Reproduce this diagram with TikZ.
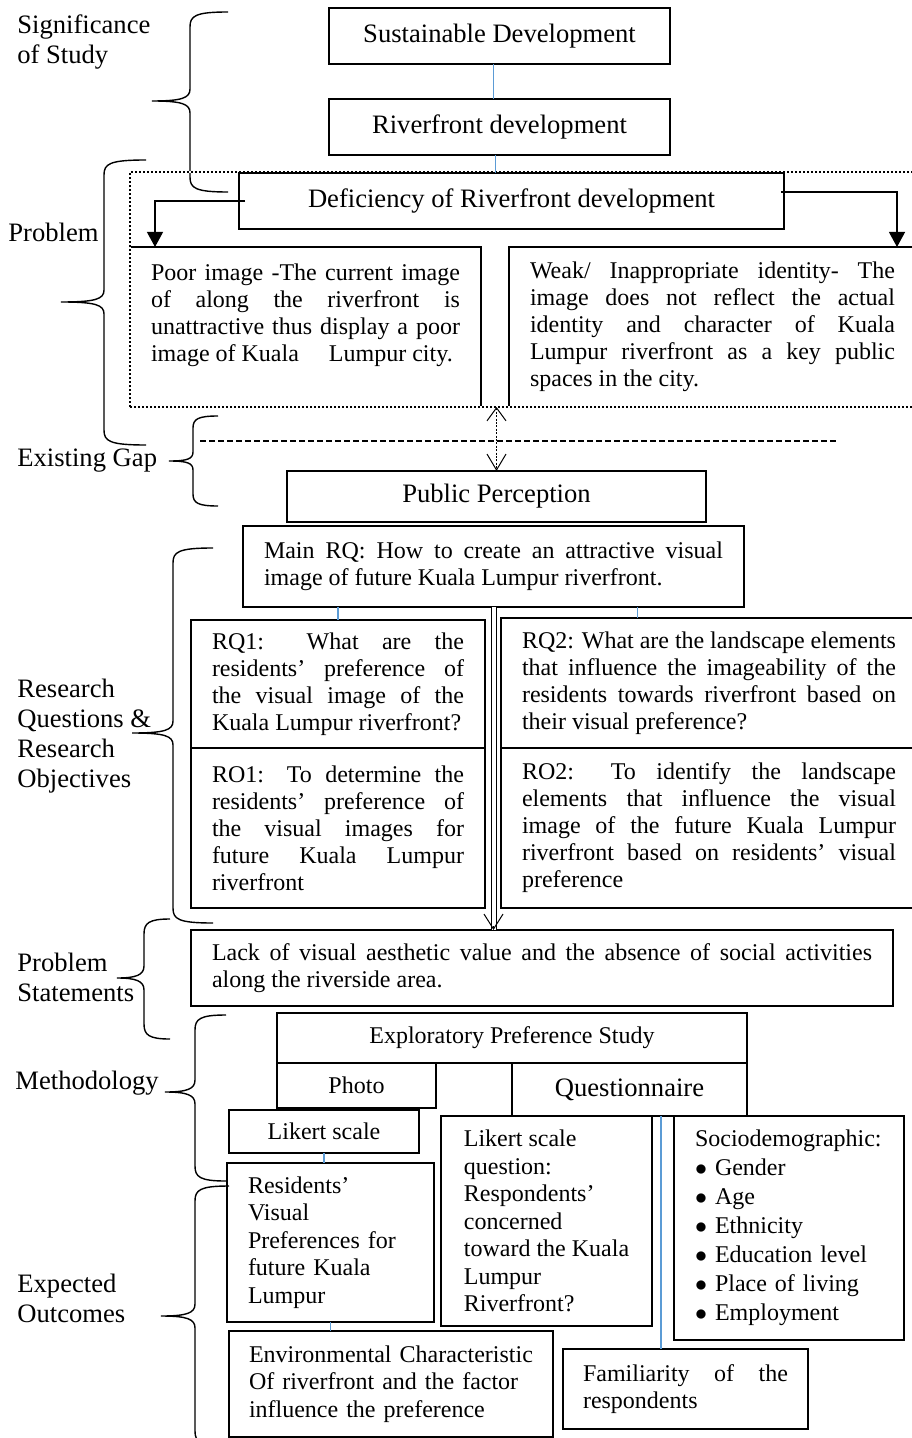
\documentclass[tikz,border=0pt]{standalone}
\usepackage{fontspec}
\setmainfont{Liberation Serif}
\usepackage{tikz}
\usetikzlibrary{positioning,arrows.meta,fit}
\definecolor{linkblue}{RGB}{91,155,213}

\begin{document}
\begin{tikzpicture}[x=0.5pt,y=-0.5pt,
        box/.style={draw, line width=0.9pt, inner sep=0pt, outer sep=0pt},
        head box/.style={box, align=center, font=\fontsize{13.3}{15}\selectfont},
        small box/.style={box, align=center, font=\fontsize{12}{13.5}\selectfont},
        text box/.style={box, anchor=north west, align=justify, inner xsep=10.5pt,
        font=\fontsize{12}{13.5}\selectfont},
        list box/.style={box, anchor=north west, align=left, inner xsep=10.5pt,
        font=\fontsize{12}{13.75}\selectfont},
        side label/.style={anchor=west, inner sep=0pt, align=left,
        font=\fontsize{13.3}{15}\selectfont},
        frame/.style={draw, line width=1pt, dash pattern=on 1pt off 1pt, inner sep=0pt,
        preaction={draw=white, solid, line width=1.4pt}},
        brace line/.style={line width=0.7pt},
        link/.style={linkblue, line width=0.8pt},
        down arrow/.style={line width=0.6pt, -{Triangle[length=7.5pt,width=8pt]}},
        gap line/.style={line width=0.6pt, dash pattern=on 3pt off 1.5pt},
        dotted arrow/.style={line width=0.5pt, dash pattern=on 1pt off 0.7pt,
        {Straight Barb[length=6.5pt,width=9.5pt]}-{Straight Barb[length=8pt,width=9.5pt]}},
        double line/.style={line width=0.5pt, double, double distance=2pt},
        open tip/.style={line width=0.5pt, -{Straight Barb[length=7.5pt,width=9.5pt]}}
        ]
        \useasboundingbox (0,0) rectangle (911,1438);

        % side labels
        \node [side label] (lsig) at (17,42) {Significance\\of Study};
        \node [side label] (lprob) at (8,232) {Problem};
        \node [side label] (lgap) at (17,461) {Existing Gap};
        \node [side label] (lrq) at (17,736) {Research\\Questions \&\\Research\\Objectives};
        \node [side label] (lps) at (17,977) {Problem\\Statements};
        \node [side label] (lmeth) at (15,1083) {Methodology};
        \node [side label] (leo) at (17,1298) {Expected\\Outcomes};

        % braces
        \draw [brace line] (228,12) .. controls (195,12) and (190,16) .. (190,27) -- (190,89)
        .. controls (190,98) and (182,101) .. (152,101) .. controls (182,101) and (190,104) .. (190,113)
        -- (190,177) .. controls (190,188) and (195,192) .. (228,192);
        \draw [brace line] (146,160) .. controls (109,160) and (104,164) .. (104,175) -- (104,290)
        .. controls (104,299) and (96,302) .. (61,302) .. controls (96,302) and (104,305) .. (104,314)
        -- (104,430) .. controls (104,441) and (109,445) .. (146,445);
        \draw [brace line] (218,416) .. controls (198,416) and (193,419) .. (193,428) -- (193,452)
        .. controls (193,459) and (187,461) .. (169,461) .. controls (187,461) and (193,463) .. (193,470)
        -- (193,494) .. controls (193,503) and (198,506) .. (218,506);
        \draw [brace line] (213,548) .. controls (178,548) and (173,552) .. (173,563) -- (173,721)
        .. controls (173,730) and (165,733) .. (132,733) .. controls (165,733) and (173,736) .. (173,745)
        -- (173,908) .. controls (173,919) and (178,923) .. (213,923);
        \draw [brace line] (170,919) .. controls (149,919) and (144,923) .. (144,934) -- (144,966)
        .. controls (144,975) and (136,978) .. (117,978) .. controls (136,978) and (144,981) .. (144,990)
        -- (144,1024) .. controls (144,1035) and (149,1039) .. (170,1039);
        \draw [brace line] (226,1015) .. controls (200,1015) and (195,1019) .. (195,1030) -- (195,1080)
        .. controls (195,1089) and (187,1092) .. (165,1092) .. controls (187,1092) and (195,1095) .. (195,1104)
        -- (195,1166) .. controls (195,1177) and (200,1181) .. (226,1181);
        \draw [brace line] (229,1186) .. controls (200,1186) and (195,1190) .. (195,1201) -- (195,1304)
        .. controls (195,1313) and (187,1316) .. (161,1316) .. controls (187,1316) and (195,1319) .. (195,1328)
        -- (195,1431) .. controls (195,1442) and (200,1446) .. (229,1446);

        % top of the study
        \node [head box, minimum width=170.5pt, minimum height=28pt, anchor=north west] (sd) at (329,8) {Sustainable Development};
        \node [head box, minimum width=170.5pt, minimum height=28pt] (rd) [below=17.5pt of sd] {Riverfront development};

        % problem
        \node [text box, text width=154.5pt, minimum height=80pt] (poor) at (130,247) {Poor image -The current image\linebreak of along the riverfront is\linebreak unattractive thus display a poor\linebreak image of Kuala\hspace{12pt} Lumpur city.\\[1pt]\mbox{}};
        \node [text box, text width=182.5pt, minimum height=80pt] (weak) at (509,247) {Weak/ Inappropriate identity- The\linebreak image does not reflect the actual\linebreak identity and character of Kuala\linebreak Lumpur riverfront as a key public\linebreak spaces in the city.};
        \coordinate (frtop) at (130,172);
        \node [frame, fit=(frtop)(poor)(weak)] (frm) {};
        \node [head box, minimum width=272.5pt, minimum height=28pt, anchor=north west] (def) at (239,173) {Deficiency of Riverfront development};

        % gap
        \coordinate (gapl) at (200,441);
        \coordinate (gapr) at (837,441);
        \node [head box, minimum width=209.5pt, minimum height=25.5pt, anchor=north west] (pp) at (287,471) {Public Perception};

        % research questions and objectives
        \node [text box, text width=229.5pt, minimum height=40.5pt] (mainrq) at (243,526) {Main RQ: How to create an attractive visual\linebreak image of future Kuala Lumpur riverfront.};
        \node [text box, text width=126pt, minimum height=64pt] (rq1) at (191,620) {RQ1: What are the\linebreak residents' preference of\linebreak the visual image of the\linebreak Kuala Lumpur riverfront?};
        \node [text box, text width=126pt, minimum height=80pt] (ro1) [below=0pt of rq1] {RO1: To determine the\linebreak residents' preference of\linebreak the visual images for\linebreak future Kuala Lumpur\linebreak riverfront};
        \node [text box, text width=187pt, minimum height=65pt] (rq2) at (501,618) {RQ2: What are the landscape elements\linebreak that influence the imageability of the\linebreak residents towards riverfront based on\linebreak their visual preference?};
        \node [text box, text width=187pt, minimum height=80pt] (ro2) [below=0pt of rq2] {RO2: To identify the landscape\linebreak elements that influence the visual\linebreak image of the future Kuala Lumpur\linebreak riverfront based on residents' visual\linebreak preference};

        % problem statement
        \node [text box, text width=330pt, minimum height=38pt] (lack) at (191,930) {Lack of visual aesthetic value and the absence of social activities\linebreak along the riverside area.};

        % methodology
        \node [small box, minimum width=235pt, minimum height=25pt, anchor=north west] (eps) at (277,1013) {Exploratory Preference Study};
        \node [small box, minimum width=79.5pt, minimum height=22.5pt] (photo) [below=0pt of eps.south west, anchor=north west] {Photo};
        \node [head box, minimum width=117.5pt, minimum height=26.5pt] (quest) [below=0pt of eps.south east, anchor=north east] {Questionnaire};
        \node [small box, minimum width=95pt, minimum height=21.5pt, anchor=north west] (likert) at (229,1110) {Likert scale};
        \node [list box, minimum width=105.5pt, minimum height=105pt] (likq) at (441,1116) {Likert scale\\question:\\Respondents'\\concerned\\toward the Kuala\\Lumpur\\Riverfront?};
        \node [list box, text width=94pt, minimum height=112pt, font=\fontsize{12}{14.5}\selectfont] (socio) at (674,1116) {Sociodemographic:\\$\bullet$\hspace{4pt}Gender\\$\bullet$\hspace{4pt}Age\\$\bullet$\hspace{4pt}Ethnicity\\$\bullet$\hspace{4pt}Education level\\$\bullet$\hspace{4pt}Place of living\\$\bullet$\hspace{4pt}Employment};

        % expected outcomes
        \node [list box, text width=82.5pt, minimum height=79.5pt] (res) at (227,1163) {Residents'\\Visual\\Preferences for\\future Kuala\\Lumpur};
        \node [list box, text width=142pt, minimum height=53pt, inner xsep=10pt] (env) at (229,1331) {Environmental Characteristic\\Of riverfront and the factor\\influence the preference};
        \node [text box, text width=102.5pt, minimum height=40pt, inner xsep=10pt] (fam) at (563,1349) {Familiarity of the\linebreak respondents};

        % connectors
        \path[draw, link]
        ([xshift=-3pt]sd.south) edge ([xshift=-3pt]rd.north)
        ([xshift=-2pt]rd.south) edge ([xshift=-2pt]rd.south |- def.north)
        (rq1.north |- mainrq.south) edge (rq1.north)
        ([xshift=72pt]mainrq.south) edge ([xshift=72pt]mainrq.south |- rq2.north)
        (likert.south) edge (likert.south |- res.north)
        (res.south) edge (res.south |- env.north)
        ([xshift=15.75pt]quest.south) edge ([xshift=15.75pt]quest.south |- fam.north)
        ;
        \draw [down arrow] ([xshift=3pt]def.west) -| ([xshift=12.5pt]poor.north west);
        \draw [down arrow] ([xshift=-1.5pt,yshift=4.5pt]def.east) -| ([xshift=194pt]weak.north west);
        \draw [gap line] (gapl) -- (gapr);
        \draw [dotted arrow] (pp.north |- poor.south) -- (pp.north);
        \draw [double line] (mainrq.south) -- (mainrq.south |- lack.north);
        \draw [open tip] ([yshift=2pt]mainrq.south |- lack.north) -- (mainrq.south |- lack.north);
     \end{tikzpicture}
\end{document}
